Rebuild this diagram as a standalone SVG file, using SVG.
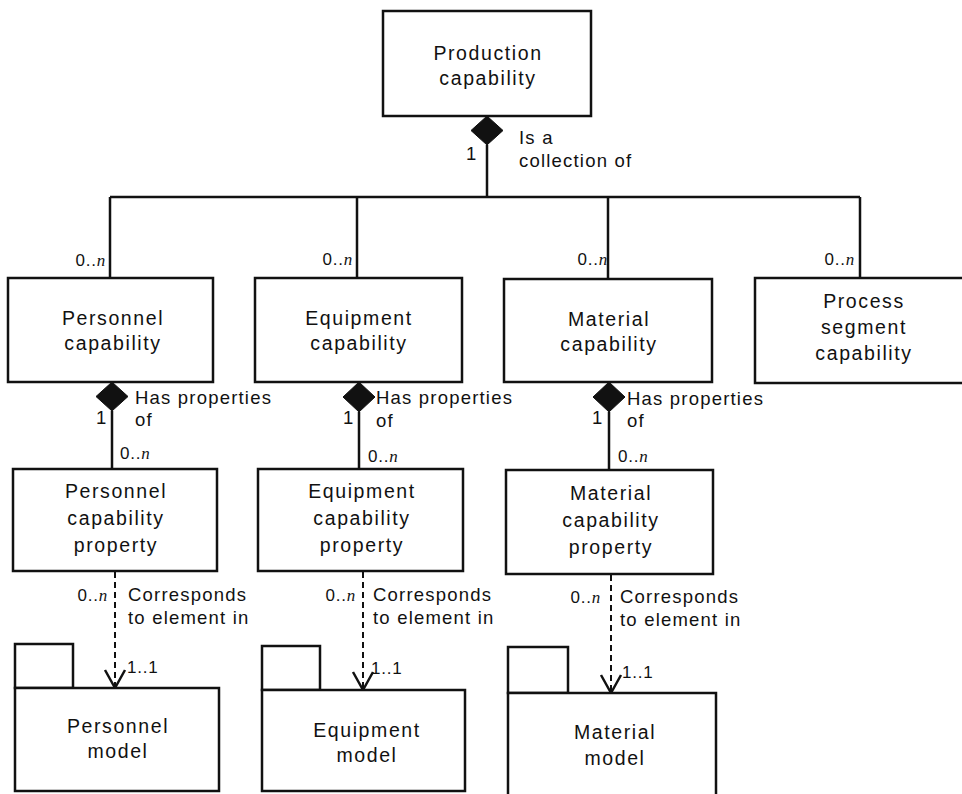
<svg xmlns="http://www.w3.org/2000/svg" width="962" height="794" viewBox="0 0 962 794">
<style>
.box{fill:#fff;stroke:#111;stroke-width:2.5}
.ln{fill:none;stroke:#111;stroke-width:2.5}
.dash{fill:none;stroke:#111;stroke-width:2;stroke-dasharray:6 4}
.dia{fill:#111;stroke:#111;stroke-width:1}
.nt{font-family:"Liberation Sans",Arial,sans-serif;font-size:19.5px;letter-spacing:1.6px;fill:#111;text-anchor:middle}
.lb{font-family:"Liberation Sans",Arial,sans-serif;font-size:18.5px;letter-spacing:1.2px;fill:#111}
.m{font-family:"Liberation Sans",Arial,sans-serif;font-size:17px;letter-spacing:0.8px;fill:#111}
.r{text-anchor:end}
.i{font-style:italic;font-family:"Liberation Serif",serif}
</style>
<rect width="962" height="794" fill="#fff"/>
<g id="connectors">
  <path class="ln" d="M487 145 V197 M110 197 H860 M110 197 V278 M357 197 V278 M608 197 V279 M860 197 V278"/>
  <polygon class="dia" points="487,116 503,130.5 487,145 471,130.5"/>
  <path class="ln" d="M112 411 V469 M359 412 V469 M609 412 V470"/>
  <polygon class="dia" points="112,382 128,396.5 112,411 96,396.5"/>
  <polygon class="dia" points="359,382 375,397 359,412 343,397"/>
  <polygon class="dia" points="609,382 625,397 609,412 593,397"/>
  <path class="dash" d="M115 572 V686 M363 572 V688 M611 575 V691"/>
  <path class="ln" d="M105 670 L115 688 L125 670 M353 672 L363 690 L373 672 M601 675 L611 693 L621 675"/>
  <text class="lb" x="466" y="160">1</text>
  <text class="lb" x="519" y="144">Is a</text>
  <text class="lb" x="519" y="167">collection of</text>
  <text class="m r" x="106" y="266">0..<tspan class="i">n</tspan></text>
  <text class="m r" x="353" y="265">0..<tspan class="i">n</tspan></text>
  <text class="m r" x="608" y="265">0..<tspan class="i">n</tspan></text>
  <text class="m r" x="855" y="265">0..<tspan class="i">n</tspan></text>
  <text class="lb" x="96" y="424">1</text>
  <text class="lb" x="135" y="404">Has properties</text>
  <text class="lb" x="135" y="426">of</text>
  <text class="m" x="120" y="459">0..<tspan class="i">n</tspan></text>
  <text class="lb" x="343" y="424">1</text>
  <text class="lb" x="376" y="404">Has properties</text>
  <text class="lb" x="376" y="427">of</text>
  <text class="m" x="368" y="462">0..<tspan class="i">n</tspan></text>
  <text class="lb" x="592" y="424">1</text>
  <text class="lb" x="627" y="405">Has properties</text>
  <text class="lb" x="627" y="427">of</text>
  <text class="m" x="618" y="462">0..<tspan class="i">n</tspan></text>
  <text class="m r" x="108" y="601">0..<tspan class="i">n</tspan></text>
  <text class="lb" x="128" y="601">Corresponds</text>
  <text class="lb" x="128" y="624">to element in</text>
  <text class="m" x="127" y="673">1..1</text>
  <text class="m r" x="356" y="601">0..<tspan class="i">n</tspan></text>
  <text class="lb" x="373" y="601">Corresponds</text>
  <text class="lb" x="373" y="624">to element in</text>
  <text class="m" x="371" y="674">1..1</text>
  <text class="m r" x="601" y="603">0..<tspan class="i">n</tspan></text>
  <text class="lb" x="620" y="603">Corresponds</text>
  <text class="lb" x="620" y="626">to element in</text>
  <text class="m" x="622" y="678">1..1</text>
</g>
<g id="production-capability">
  <rect class="box" x="383" y="11" width="208" height="105"/>
  <text class="nt" x="488" y="60">Production</text>
  <text class="nt" x="488" y="85">capability</text>
</g>
<g id="personnel-capability">
  <rect class="box" x="8" y="278" width="205" height="104"/>
  <text class="nt" x="113" y="325">Personnel</text>
  <text class="nt" x="113" y="350">capability</text>
</g>
<g id="equipment-capability">
  <rect class="box" x="255" y="278" width="207" height="104"/>
  <text class="nt" x="359" y="325">Equipment</text>
  <text class="nt" x="359" y="350">capability</text>
</g>
<g id="material-capability">
  <rect class="box" x="504" y="279" width="208" height="103"/>
  <text class="nt" x="609" y="326">Material</text>
  <text class="nt" x="609" y="351">capability</text>
</g>
<g id="process-segment-capability">
  <rect class="box" x="755" y="278" width="212" height="105"/>
  <text class="nt" x="864" y="308">Process</text>
  <text class="nt" x="864" y="334">segment</text>
  <text class="nt" x="864" y="360">capability</text>
</g>
<g id="personnel-capability-property">
  <rect class="box" x="13" y="469" width="204" height="102"/>
  <text class="nt" x="116" y="498">Personnel</text>
  <text class="nt" x="116" y="525">capability</text>
  <text class="nt" x="116" y="552">property</text>
</g>
<g id="equipment-capability-property">
  <rect class="box" x="258" y="469" width="205" height="102"/>
  <text class="nt" x="362" y="498">Equipment</text>
  <text class="nt" x="362" y="525">capability</text>
  <text class="nt" x="362" y="552">property</text>
</g>
<g id="material-capability-property">
  <rect class="box" x="506" y="470" width="207" height="104"/>
  <text class="nt" x="611" y="500">Material</text>
  <text class="nt" x="611" y="527">capability</text>
  <text class="nt" x="611" y="554">property</text>
</g>
<g id="personnel-model">
  <rect class="box" x="15" y="644" width="58" height="44"/>
  <rect class="box" x="15" y="688" width="204" height="103"/>
  <text class="nt" x="118" y="733">Personnel</text>
  <text class="nt" x="118" y="758">model</text>
</g>
<g id="equipment-model">
  <rect class="box" x="262" y="646" width="58" height="44"/>
  <rect class="box" x="262" y="690" width="203" height="101"/>
  <text class="nt" x="367" y="737">Equipment</text>
  <text class="nt" x="367" y="762">model</text>
</g>
<g id="material-model">
  <rect class="box" x="508" y="647" width="60" height="46"/>
  <rect class="box" x="508" y="693" width="208" height="103"/>
  <text class="nt" x="615" y="739">Material</text>
  <text class="nt" x="615" y="765">model</text>
</g>
</svg>
